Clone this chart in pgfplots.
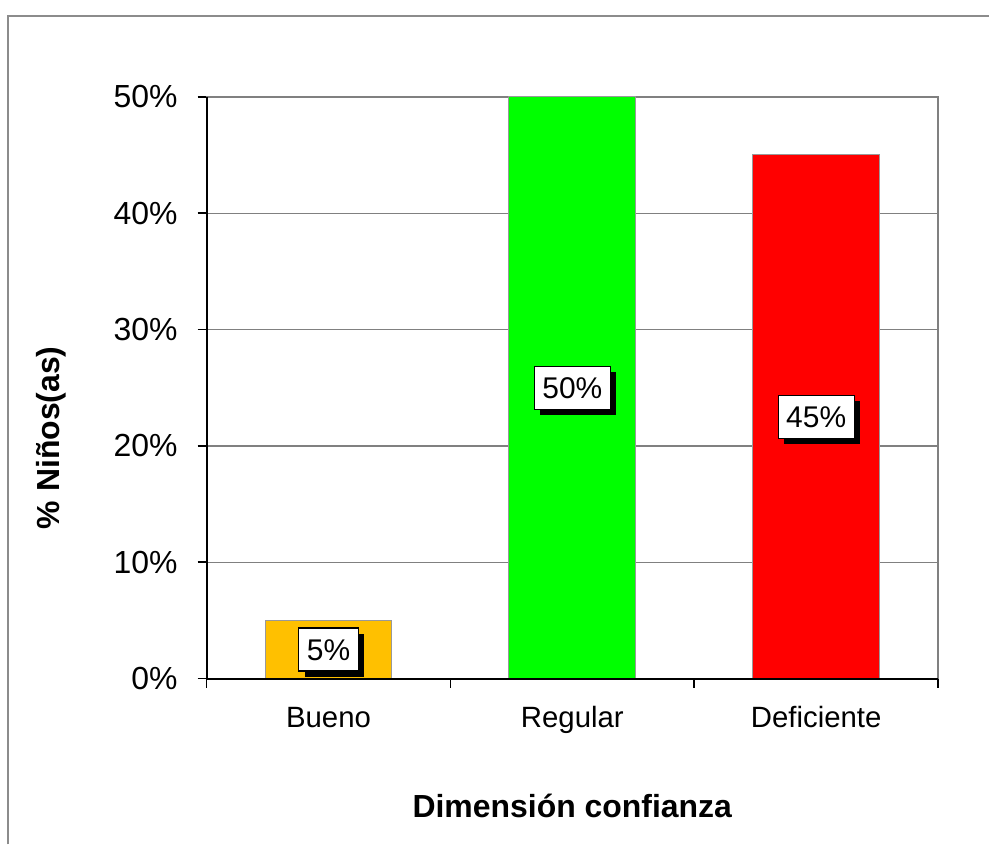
\documentclass[border=0pt]{standalone}
\usepackage{pgfplots}
\pgfplotsset{compat=1.18}
\usepackage{fontspec}
\setmainfont{Liberation Sans}
\usetikzlibrary{shadows}

\definecolor{cBueno}{HTML}{FFC000}
\definecolor{cRegular}{HTML}{00FF00}
\definecolor{cDef}{HTML}{FF0000}
\definecolor{frame}{HTML}{8C8C8C}

\begin{document}
\begin{tikzpicture}
% page size: 990 x 844 px at 0.5pt per px
\path (-103.5pt,-82pt) rectangle (391.5pt,340pt);
\draw[frame, line width=1pt] (-99.5pt,-83pt) -- (-99.5pt,332pt) -- (392pt,332pt);
\begin{axis}[
    at={(0,0)}, anchor=south west,
    scale only axis,
    width=366.5pt, height=291.5pt,
    xmin=-0.5, xmax=2.5,
    ymin=0, ymax=50,
    xtick={0,1,2},
    xticklabels={Bueno,Regular,Deficiente},
    minor xtick={-0.5,0.5,1.5,2.5},
    major x tick style={draw=none},
    ytick={0,10,20,30,40,50},
    yticklabels={0\%,10\%,20\%,30\%,40\%,50\%},
    xtick pos=lower, ytick pos=left,
    tick align=outside,
    major tick length=4.5pt, minor tick length=4.5pt,
    tick style={black, line width=0.8pt},
    ymajorgrids,
    grid style={gray, line width=0.6pt},
    axis line style={gray, line width=0.8pt},
    yticklabel style={font=\fontsize{16}{19}\selectfont, xshift=-6.5pt},
    xticklabel style={font=\fontsize{14.7}{17}\selectfont, anchor=base, yshift=-20pt},
    xlabel={\textbf{Dimensión confianza}},
    xlabel style={font=\fontsize{16}{19}\selectfont, at={(axis description cs:0.5,-0.238)}, anchor=base},
    ylabel={\textbf{\% Niños(as)}},
    ylabel style={font=\fontsize{16}{19}\selectfont, at={(axis description cs:-0.2005,0.414)}, anchor=base, rotate=0},
    clip=false,
]
\addplot[ybar, bar width=0.52, bar shift=0pt, fill=cBueno, draw=gray!80, line width=0.5pt] coordinates {(0,5)};
\addplot[ybar, bar width=0.52, bar shift=0pt, fill=cRegular, draw=gray!80, line width=0.5pt] coordinates {(1,50)};
\addplot[ybar, bar width=0.52, bar shift=0pt, fill=cDef, draw=gray!80, line width=0.5pt] coordinates {(2,45)};
\addplot[draw=none, mark=none, nodes near coords, point meta=explicit symbolic,
    every node near coord/.style={anchor=center, fill=white, draw=black, line width=0.6pt,
      inner xsep=4pt, inner ysep=0pt, minimum height=21.5pt, text height=10.7pt, text depth=0pt,
      font=\fontsize{15}{18}\selectfont,
      drop shadow={shadow xshift=3pt, shadow yshift=-3pt, opacity=1, fill=black}}]
  coordinates {(0,2.5)[5\%] (1,25)[50\%] (2,22.5)[45\%]};
\draw[black, line width=1pt] (rel axis cs:0,1) -- (rel axis cs:0,0) -- (rel axis cs:1,0);
\end{axis}
\end{tikzpicture}
\end{document}
